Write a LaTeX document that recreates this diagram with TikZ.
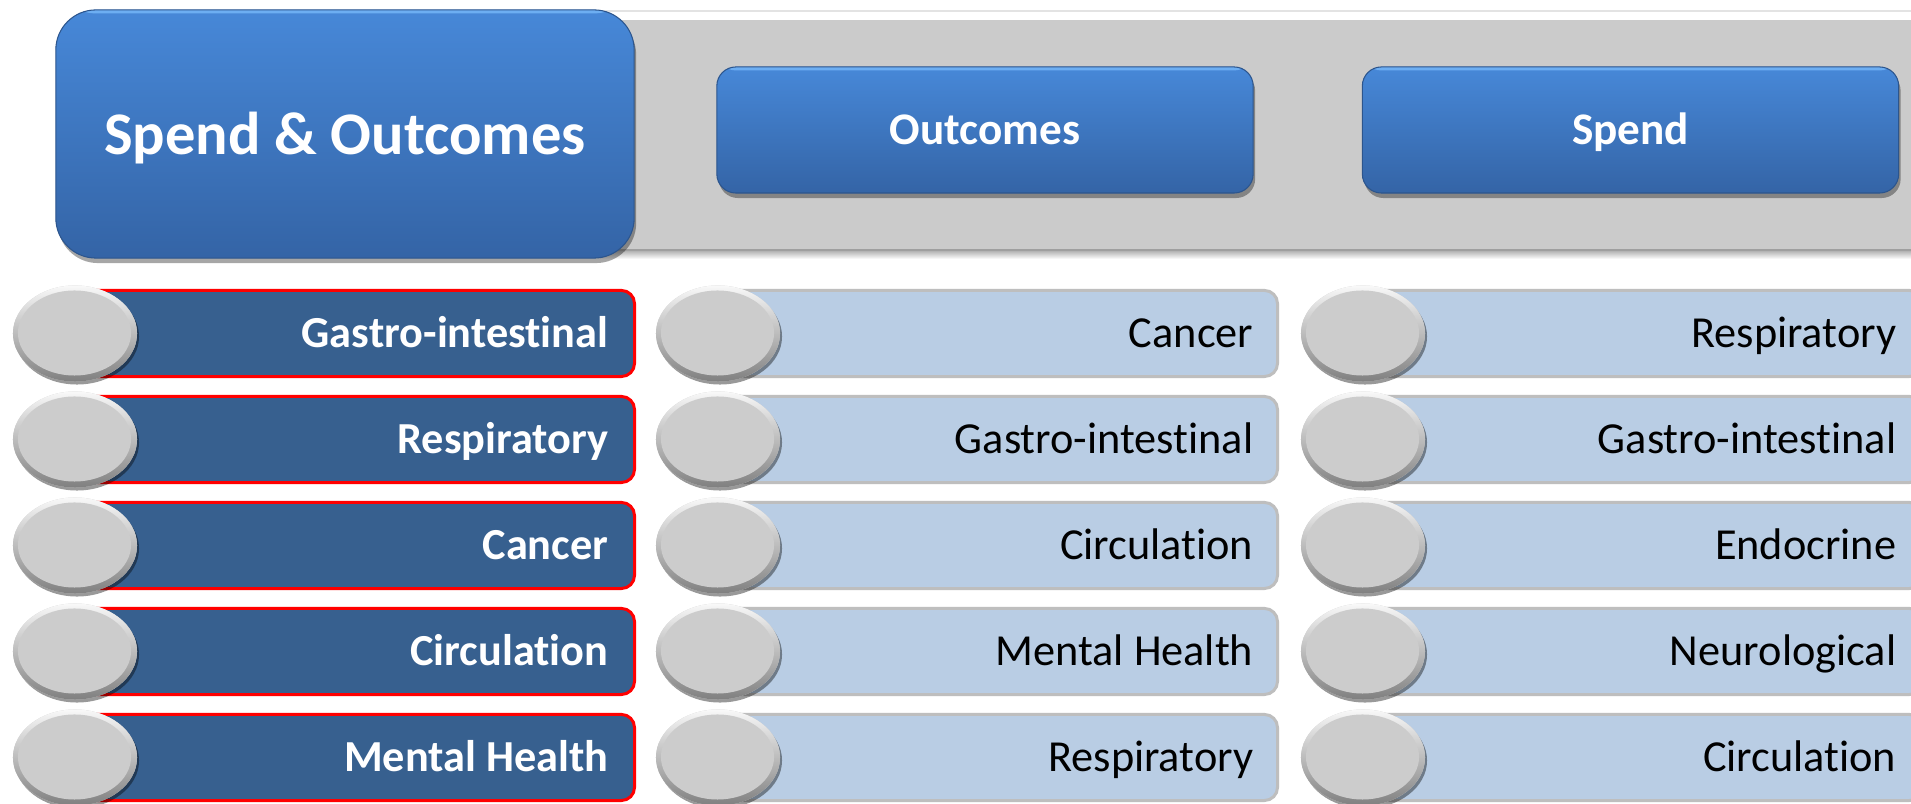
\documentclass[tikz,border=0pt]{standalone}
\usepackage{fontspec}
\setmainfont{Carlito}[RawFeature={-liga;-clig;-dlig}]
\usetikzlibrary{shapes.geometric,shadows}
\definecolor{btop}{HTML}{4788D8}
\definecolor{bbot}{HTML}{3464A6}
\definecolor{bhl}{HTML}{6DAEF2}
\definecolor{bandc}{HTML}{CBCBCB}
\definecolor{darkbar}{HTML}{37608F}
\definecolor{lightbar}{HTML}{B9CDE4}
\definecolor{lightedge}{HTML}{BEBEBE}
\definecolor{circc}{HTML}{CCCCCC}
\definecolor{redge}{HTML}{FF0000}
\begin{document}
\begin{tikzpicture}[x=0.01cm,y=-0.01cm,
  bluebox/.style={rectangle, top color=btop, bottom color=bbot, draw=bbot!85!black, line width=0.3pt,
    drop shadow={shadow xshift=0.02cm, shadow yshift=-0.05cm, opacity=0.35, fill=black},
    path picture={\fill[bhl] (path picture bounding box.north west) rectangle ([yshift=-0.035cm]path picture bounding box.north east);}},
  bigbox/.style={bluebox, minimum width=5.78cm, minimum height=2.48cm, rounded corners=0.4cm, inner sep=0},
  btn/.style={bluebox, minimum width=5.36cm, minimum height=1.26cm, rounded corners=0.19cm, inner sep=0},
  darkbarbox/.style={rectangle, fill=darkbar, draw=redge, line width=0.85pt, rounded corners=0.13cm,
    minimum width=5.56cm, minimum height=0.86cm, anchor=east, inner sep=0},
  lightbarbox/.style={rectangle, fill=lightbar, draw=lightedge, line width=0.85pt, rounded corners=0.13cm,
    minimum width=5.56cm, minimum height=0.86cm, anchor=east, inner sep=0},
  knob/.style={ellipse, minimum width=1.24cm, minimum height=0.96cm, inner sep=0, fill=circc,
    drop shadow={shadow xshift=0.02cm, shadow yshift=-0.03cm, opacity=0.4, fill=black},
    path picture={
      \shade[top color=white!95!gray, bottom color=black!50] (path picture bounding box.north west) rectangle (path picture bounding box.south east);
      \fill[circc] ([xshift=-0.005cm,yshift=0.005cm]path picture bounding box.center) ellipse [x radius=0.565cm, y radius=0.425cm];}},
  ttl/.style={font=\fontsize{17.2}{20}\selectfont\bfseries, text=white, anchor=base, inner sep=0},
  btntxt/.style={font=\fontsize{12.85}{15}\selectfont\bfseries, text=white, anchor=base, inner sep=0},
  ltxt/.style={font=\fontsize{12.6}{15}\selectfont\bfseries, text=white, anchor=base east, inner sep=0},
  mtxt/.style={font=\fontsize{12.6}{15}\selectfont, text=black, anchor=base east, inner sep=0}
]
\useasboundingbox (0,0) rectangle (1911,804);
\clip (0,0) rectangle (1911,804);
\fill[white] (0,0) rectangle (1911,804);

% banner
\fill[gray!22] (600,10) rectangle (1911,12);
\node[rectangle, fill=bandc, minimum width=13.3cm, minimum height=2.31cm, anchor=north west, inner sep=0] (band) at (600,19) {};
\fill[gray!75] (600,249) rectangle (1911,251.5);
\shade[top color=gray!55, bottom color=white] (600,251.5) rectangle (1911,259);

% main box
\node[bigbox] (main) at (345,134) {};
\node[ttl] (ttlA) at (345,155) {Spend \& Outcomes};

% buttons
\node[btn] (outc) at (985,130) {};
\node[btntxt] (outcT) at (985,145) {Outcomes};
\node[btn] (spend) at (1630.5,130) {};
\node[btntxt] (spendT) at (1630.5,145) {Spend};

% left column
\foreach \t [count=\i from 0] in {Gastro-intestinal,Respiratory,Cancer,Circulation,Mental Health} {
  \pgfmathsetmacro\yy{333.5+106*\i}
  \node[darkbarbox] (Lbar\i) at (636,\yy) {};
  \node[knob] (Lknob\i) at (75,\yy) {};
  \node[ltxt] (Ltxt\i) at (609,\yy+14.5) {\t};
}
% middle column
\foreach \t [count=\i from 0] in {Cancer,Gastro-intestinal,Circulation,Mental Health,Respiratory} {
  \pgfmathsetmacro\yy{333.5+106*\i}
  \node[lightbarbox] (Mbar\i) at (1279,\yy) {};
  \node[knob] (Mknob\i) at (718,\yy) {};
  \node[mtxt] (Mtxt\i) at (1254,\yy+14.5) {\t};
}
% right column
\foreach \t [count=\i from 0] in {Respiratory,Gastro-intestinal,Endocrine,Neurological,Circulation} {
  \pgfmathsetmacro\yy{333.5+106*\i}
  \node[lightbarbox] (Rbar\i) at (1924,\yy) {};
  \node[knob] (Rknob\i) at (1363,\yy) {};
  \node[mtxt] (Rtxt\i) at (1897,\yy+14.5) {\t};
}
\end{tikzpicture}
\end{document}
